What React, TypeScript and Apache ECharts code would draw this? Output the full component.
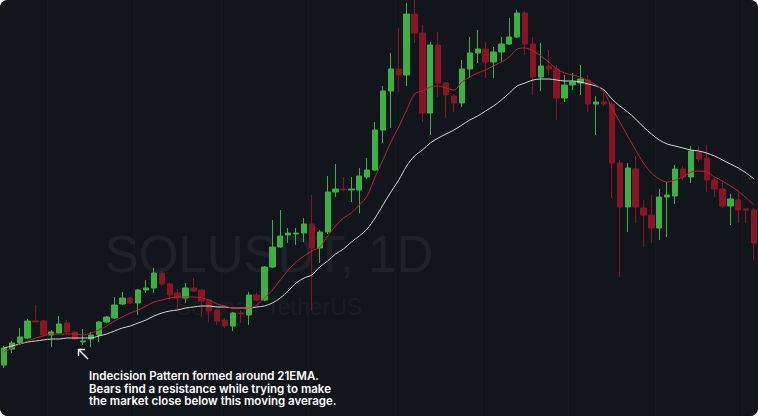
import React, { useEffect, useRef } from "react";
import * as echarts from "echarts";

// Daily SOL/USDT candles (price units)
const days: string[] = Array.from({ length: 96 }, (_, i) => `Day ${i + 1}`);

const opens = [
  51, 67, 73, 78, 95, 95, 81, 83, 93, 84,
  74, 77, 81, 94, 98, 112, 118, 113, 126, 128,
  143, 132, 123, 118, 128, 126, 116, 106, 96, 90,
  103, 101, 121, 116, 149, 169, 181, 182, 183, 192,
  168, 184, 224, 227, 226, 226, 239, 246, 286, 325,
  347, 341, 402, 383, 303, 371, 333, 320, 313, 347,
  363, 367, 354, 364, 372, 379, 403, 372, 339, 350,
  347, 318, 331, 333, 336, 312, 314, 312, 253, 209,
  247, 208, 201, 188, 219, 220, 247, 239, 264, 258,
  236, 227, 210, 216, 207, 206,
];
const closes = [
  68, 73, 79, 95, 94, 81, 84, 92, 84, 77,
  75, 81, 94, 99, 111, 118, 113, 126, 128, 143,
  132, 121, 118, 128, 125, 115, 105, 95, 90, 103,
  102, 121, 116, 149, 169, 180, 183, 183, 192, 168,
  184, 224, 227, 226, 227, 240, 246, 286, 325, 347,
  341, 402, 383, 303, 371, 333, 321, 313, 347, 363,
  367, 354, 364, 372, 379, 403, 372, 339, 350, 347,
  318, 331, 334, 337, 312, 314, 312, 253, 209, 248,
  209, 201, 188, 219, 221, 247, 239, 265, 257, 236,
  227, 210, 217, 206, 206, 173,
];
const lows = [
  48, 63, 71, 77, 93, 80, 69, 82, 82, 76,
  71, 69, 74, 93, 97, 111, 112, 101, 123, 123,
  130, 117, 106, 113, 124, 99, 94, 91, 88, 85,
  93, 91, 115, 115, 148, 168, 173, 171, 174, 106,
  153, 182, 219, 225, 214, 203, 237, 245, 273, 288,
  324, 330, 373, 294, 281, 319, 298, 304, 309, 338,
  353, 338, 338, 354, 371, 378, 361, 321, 325, 341,
  296, 314, 326, 321, 304, 281, 310, 218, 139, 184,
  193, 169, 173, 176, 179, 212, 236, 233, 254, 224,
  219, 208, 191, 193, 193, 156,
];
const highs = [
  70, 75, 88, 97, 111, 96, 86, 100, 96, 85,
  87, 84, 95, 100, 119, 124, 119, 127, 136, 148,
  145, 133, 127, 133, 138, 127, 117, 107, 98, 104,
  106, 124, 123, 150, 196, 206, 188, 188, 198, 221,
  186, 240, 252, 239, 239, 248, 258, 294, 330, 363,
  388, 413, 416, 391, 374, 384, 334, 322, 356, 379,
  386, 374, 369, 379, 398, 406, 405, 379, 373, 366,
  351, 341, 343, 351, 341, 320, 323, 314, 256, 253,
  260, 216, 221, 227, 234, 251, 250, 270, 271, 271,
  238, 234, 222, 224, 208, 208,
];
// 21 EMA (red) and slower EMA (white)
const ema21 = [
  64, 68, 72, 75, 78, 80, 82, 82, 82, 82,
  81, 83, 86, 90, 95, 99, 103, 106, 110, 114,
  116, 118, 119, 119, 119, 118, 116, 112, 110, 108,
  108, 108, 111, 118, 126, 136, 146, 154, 160, 165,
  169, 180, 190, 198, 203, 211, 220, 239, 256, 274,
  289, 306, 322, 325, 329, 330, 328, 326, 334, 339,
  343, 346, 350, 354, 359, 367, 368, 365, 360, 354,
  347, 343, 341, 339, 335, 331, 324, 308, 294, 280,
  266, 253, 243, 237, 234, 236, 239, 244, 245, 244,
  239, 235, 230, 225, 218, 211,
];
const emaSlow = [
  68, 70, 72, 74, 75, 76, 77, 77, 78, 78,
  78, 78, 80, 82, 85, 88, 90, 93, 96, 100,
  103, 105, 106, 108, 109, 110, 110, 109, 109, 108,
  108, 108, 109, 110, 113, 118, 125, 133, 138, 141,
  149, 155, 162, 167, 174, 180, 187, 198, 211, 224,
  236, 250, 260, 266, 273, 278, 282, 286, 291, 296,
  300, 305, 310, 316, 323, 330, 333, 336, 337, 337,
  336, 335, 335, 334, 332, 330, 326, 317, 310, 304,
  297, 289, 282, 276, 272, 270, 268, 266, 265, 263,
  260, 256, 252, 248, 243, 237,
];

const TITLE = "SOLUSDT, 1D";
const SUBTITLE = "Solana / TetherUS";
const NOTE = [
  "Indecision Pattern formed around 21EMA.",
  "Bears find a resistance while trying to make",
  "the market close below this moving average.",
];

const BG = "#13151d";
const UP = "#3cb044";
const DOWN = "#861623";

export default function App() {
  const ref = useRef<HTMLDivElement>(null);

  useEffect(() => {
    if (!ref.current) return;
    const chart = echarts.init(ref.current, undefined, { renderer: "svg" });
    const ohlc = opens.map((o, i) => [o, closes[i], lows[i], highs[i]]);

    const noteLines = NOTE.map((line, i) => ({
      type: "text",
      x: 89,
      y: 376 + i * 12.7,
      z: 100,
      style: {
        text: line,
        fontFamily: "Inter, Roboto, sans-serif",
        fontSize: 11.5,
        fontWeight: 600,
        fill: "#ffffff",
        align: "left",
        verticalAlign: "middle",
      },
    }));

    chart.setOption({
      animation: false,
      backgroundColor: BG,
      grid: { left: -2, right: -2, top: 0, bottom: 0 },
      xAxis: {
        type: "category",
        data: days,
        boundaryGap: true,
        axisLine: { show: false },
        axisTick: { show: false },
        axisLabel: { show: false },
        splitLine: {
          show: true,
          interval: (i: number) => i >= 6 && (i - 6) % 11 === 0,
          lineStyle: { color: "rgba(255,255,255,0.025)", width: 1 },
        },
      },
      yAxis: {
        type: "value",
        min: 0,
        max: 416,
        show: false,
      },
      graphic: [
        {
          type: "text",
          x: 269,
          y: 254,
          z: -10,
          style: {
            text: TITLE,
            fontFamily: "Liberation Sans, Arial, sans-serif",
            fontSize: 51,
            fill: "rgba(255,255,255,0.055)",
            align: "center",
            verticalAlign: "middle",
          },
        },
        {
          type: "text",
          x: 269,
          y: 307,
          z: -10,
          style: {
            text: SUBTITLE,
            fontFamily: "Liberation Sans, Arial, sans-serif",
            fontSize: 23,
            fill: "rgba(255,255,255,0.055)",
            align: "center",
            verticalAlign: "middle",
          },
        },
        {
          type: "polyline",
          z: 100,
          shape: { points: [[88, 359], [78.5, 349.5]] },
          style: { stroke: "#ffffff", lineWidth: 1.4, fill: null },
        },
        {
          type: "polyline",
          z: 100,
          shape: { points: [[78.5, 356], [78.5, 349.5], [85, 349.5]] },
          style: { stroke: "#ffffff", lineWidth: 1.4, fill: null },
        },
        ...noteLines,
      ],
      series: [
        {
          type: "candlestick",
          data: ohlc,
          barWidth: "74%",
          itemStyle: {
            color: UP,
            color0: DOWN,
            borderColor: UP,
            borderColor0: DOWN,
            borderWidth: 1,
          },
          z: 2,
        },
        {
          type: "line",
          data: emaSlow,
          symbol: "none",
          smooth: 0.3,
          lineStyle: { color: "#d6d6d6", width: 1 },
          z: 3,
        },
        {
          type: "line",
          data: ema21,
          symbol: "none",
          smooth: 0.3,
          lineStyle: { color: "#b8232f", width: 1 },
          z: 4,
        },
      ],
    });

    return () => chart.dispose();
  }, []);

  return (
    <div
      style={{
        position: "fixed",
        left: 0,
        top: 0,
        width: 758,
        height: 416,
        borderRadius: 8,
        overflow: "hidden",
        background: BG,
      }}
    >
      <div ref={ref} style={{ width: 758, height: 416 }} />
    </div>
  );
}
